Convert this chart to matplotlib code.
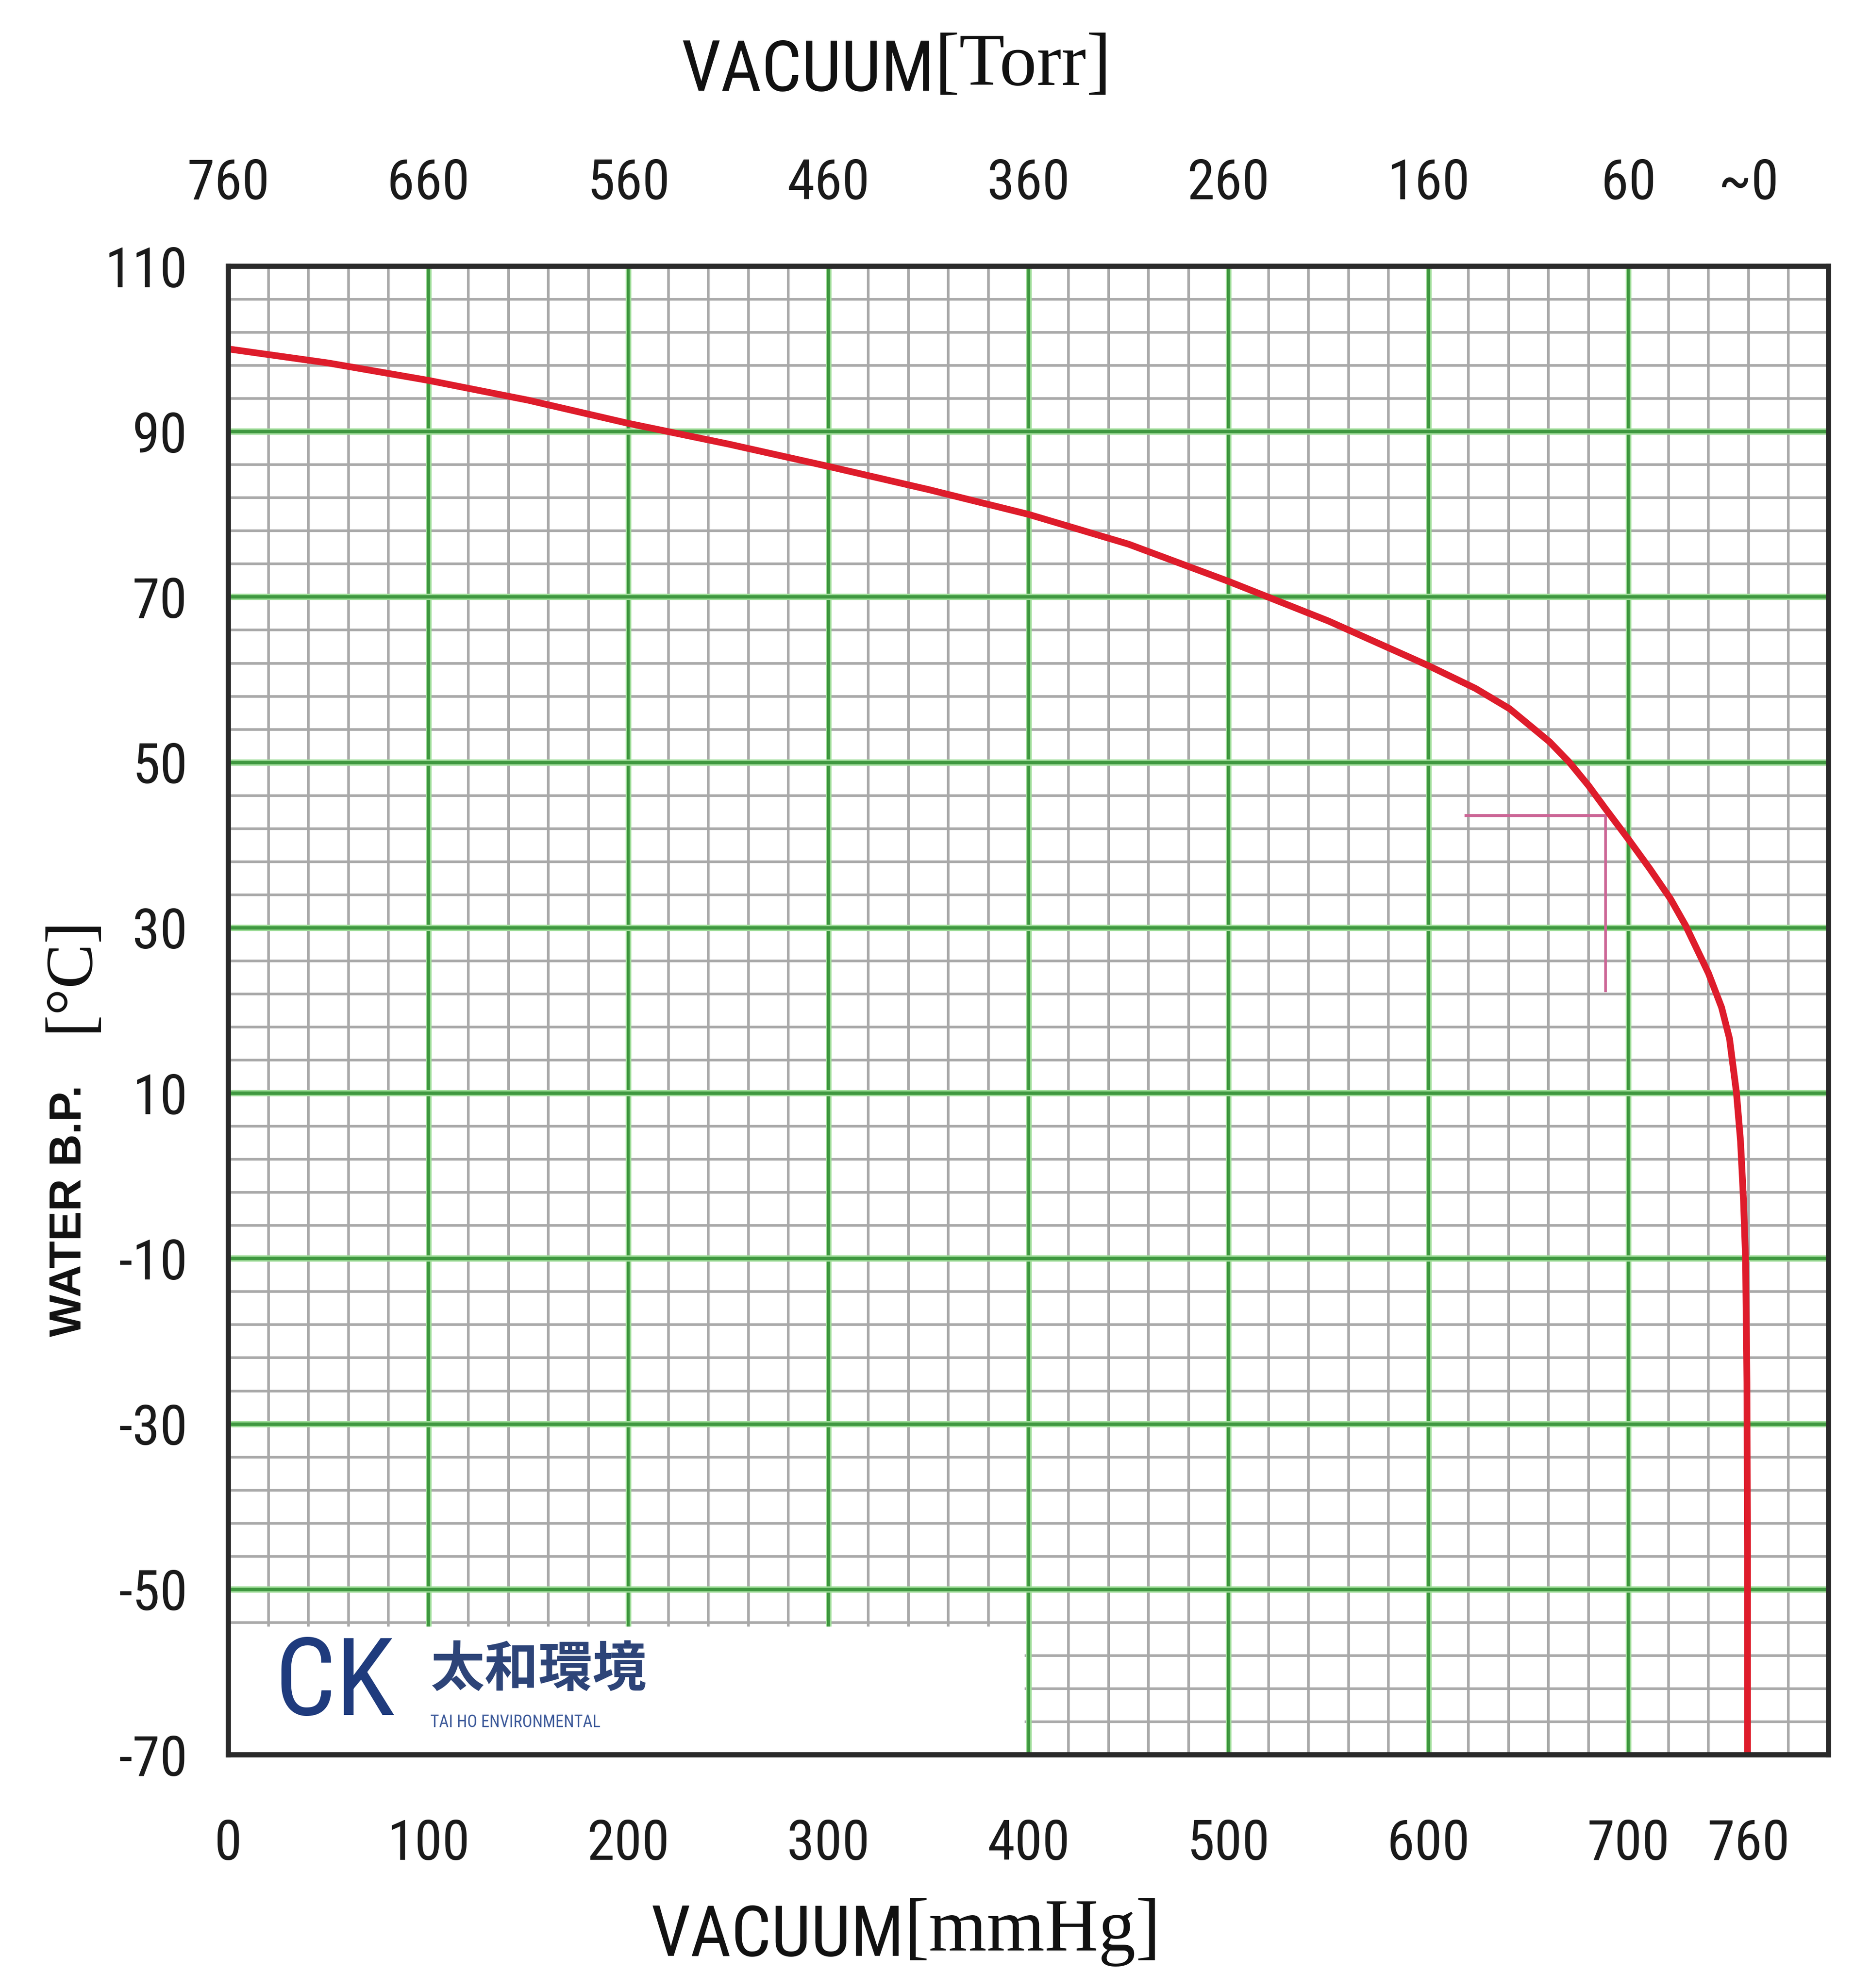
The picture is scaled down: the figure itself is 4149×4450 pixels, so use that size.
import numpy as np
import matplotlib
matplotlib.use("Agg")
import matplotlib.pyplot as plt
from matplotlib import font_manager as fm
from matplotlib.patches import Rectangle

# ---------------- data ----------------
vacuum_mmhg = [0, 50, 100, 150, 200, 250, 300, 350, 400, 450, 500, 550, 600,
               623.5, 640.5, 660.5, 670.5, 680, 688.5, 700, 710.5, 721, 728.5,
               740, 746.5, 750.5, 754, 756, 757.5, 758.5, 759.2, 759.5, 759.5]
water_bp = [100, 98.3, 96.2, 93.8, 91.0, 88.5, 85.8, 83.0, 80.0, 76.4, 71.9, 67.1, 61.7,
            58.95, 56.5, 52.5, 50.0, 47.2, 44.4, 40.7, 37.2, 33.5, 30.3,
            24.5, 20.4, 16.6, 10.0, 4.2, -3.0, -10.0, -25.0, -45.0, -70.0]

# example read-off (pink guide lines)
guide_h_x = [618, 688.5]
guide_h_y = [43.6, 43.6]
guide_v_x = [688.5, 688.5]
guide_v_y = [43.6, 22.2]

bottom_ticks = [0, 100, 200, 300, 400, 500, 600, 700, 760]
bottom_labels = ["0", "100", "200", "300", "400", "500", "600", "700", "760"]
top_labels = ["760", "660", "560", "460", "360", "260", "160", "60", "~0"]
y_ticks = [110, 90, 70, 50, 30, 10, -10, -30, -50, -70]
y_labels = ["110", "90", "70", "50", "30", "10", "-10", "-30", "-50", "-70"]

# ---------------- fonts ----------------
names = {f.name for f in fm.fontManager.ttflist}
def pick(cands, default):
    for c in cands:
        if c in names:
            return c
    return default
NARROW = pick(["Liberation Sans Narrow", "Roboto Condensed", "Open Sans Condensed",
               "DejaVu Sans Condensed"], "Liberation Sans")
SANS = pick(["Liberation Sans", "Arial"], "DejaVu Sans")
SERIF = pick(["Liberation Serif", "Times New Roman"], "DejaVu Serif")
CJK = pick(["Noto Sans CJK TC", "Noto Sans CJK SC", "Noto Sans CJK JP"], "DejaVu Sans")
plt.rcParams["axes.unicode_minus"] = False

W, H, DPI = 4149, 4450, 300
fig = plt.figure(figsize=(W / DPI, H / DPI), dpi=DPI)
fig.patch.set_facecolor("white")

left, right, top, bottom = 511 / W, 4092 / W, 596 / H, 3928 / H
ax = fig.add_axes([left, 1 - bottom, right - left, bottom - top])
ax.set_xlim(0, 800)
ax.set_ylim(-70, 110)

# grid
for xv in np.arange(20, 800, 20):
    if xv % 100 != 0:
        ax.axvline(xv, color="#a9a9a9", lw=1.4, zorder=1)
for yv in np.arange(106, -70, -4):
    if (yv - 10) % 20 != 0:
        ax.axhline(yv, color="#a9a9a9", lw=1.4, zorder=1)
for xv in range(100, 800, 100):
    ax.axvline(xv, color="#9edc98", lw=3.0, zorder=2)
    ax.axvline(xv, color="#3f9840", lw=1.5, zorder=2)
for yv in range(90, -70, -20):
    ax.axhline(yv, color="#9edc98", lw=3.4, zorder=2)
    ax.axhline(yv, color="#3f9840", lw=1.8, zorder=2)

# logo area
ax.add_patch(Rectangle((0, -70), 398, 15.5, facecolor="white", edgecolor="none", zorder=3))
ax.text(23, -61.6, "CK", fontfamily=NARROW, fontsize=58, color="#1f3b7d",
        ha="left", va="center", zorder=4)
ax.text(101, -59.8, "太和環境", fontfamily=[CJK, "DejaVu Sans"], fontsize=29,
        fontweight="bold", color="#2d4478", ha="left", va="center", zorder=4)
ax.text(101, -66.1, "TAI HO ENVIRONMENTAL", fontfamily=NARROW, fontsize=9,
        color="#3d5a9a", ha="left", va="center", zorder=4)

# guide lines
ax.plot(guide_h_x, guide_h_y, color="#cc6696", lw=1.6, zorder=4, solid_capstyle="butt")
ax.plot(guide_v_x, guide_v_y, color="#cc6696", lw=1.4, zorder=4, solid_capstyle="butt")

# curve
ax.plot(vacuum_mmhg, water_bp, color="#de1c2b", lw=3.6, zorder=5,
        solid_joinstyle="round", solid_capstyle="butt")

for sp in ax.spines.values():
    sp.set_linewidth(2.8)
    sp.set_color("#2a2a2a")
    sp.set_zorder(10)

ax.set_xticks(bottom_ticks)
ax.set_xticklabels(bottom_labels, fontfamily=NARROW, fontsize=30)
ax.set_yticks(y_ticks)
ax.set_yticklabels(y_labels, fontfamily=NARROW, fontsize=30)
ax.tick_params(axis="x", length=0, pad=34, colors="#1a1a1a")
ax.tick_params(axis="y", length=0, pad=22, colors="#1a1a1a")

axt = ax.twiny()
axt.set_xlim(ax.get_xlim())
axt.set_xticks(bottom_ticks)
axt.set_xticklabels(top_labels, fontfamily=NARROW, fontsize=30)
axt.tick_params(axis="x", length=0, pad=30, colors="#1a1a1a")
for sp in axt.spines.values():
    sp.set_visible(False)

# titles
fig.text(2092 / W, 1 - 160 / H, "VACUUM", fontfamily=NARROW, fontsize=38,
         ha="right", va="center", color="#111111")
fig.text(2092 / W, 1 - 150 / H, "[Torr]", fontfamily=SERIF, fontsize=40,
         ha="left", va="center", color="#111111")
fig.text(2024 / W, 1 - 4335 / H, "VACUUM", fontfamily=NARROW, fontsize=38,
         ha="right", va="center", color="#111111")
fig.text(2024 / W, 1 - 4325 / H, "[mmHg]", fontfamily=SERIF, fontsize=40,
         ha="left", va="center", color="#111111")

fig.text(156 / W, 1 - 2710 / H, "WATER B.P.", fontfamily=SANS, fontweight="bold",
         fontsize=24, rotation=90, ha="center", va="center", color="#111111")
fig.text(160 / W, 1 - 2180 / H, "[°C]", fontfamily=SERIF, fontsize=36,
         rotation=90, ha="center", va="center", color="#111111")

fig.savefig("out.png", dpi=DPI)
